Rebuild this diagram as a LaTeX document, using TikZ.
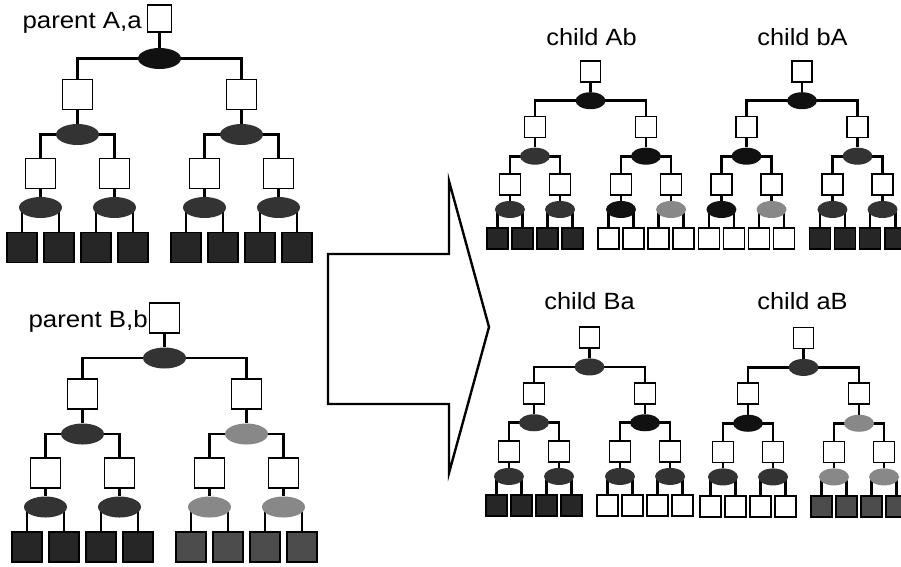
\documentclass[tikz,border=0pt]{standalone}
\usepackage{fontspec}
\setmainfont{Liberation Sans}
\usetikzlibrary{shapes.geometric,backgrounds}
\definecolor{cBlack}{HTML}{111111}
\definecolor{cDark}{HTML}{333333}
\definecolor{cLight}{HTML}{888888}
\definecolor{cLeafA}{HTML}{262626}
\definecolor{cLeafB}{HTML}{4C4C4C}
\tikzset{
  tbox/.style={draw=black, fill=white, line width=1.8pt, inner sep=0pt, minimum size=#1},
  tell/.style args={#1/#2/#3}{ellipse, fill=#1, inner sep=0pt, minimum width=#2, minimum height=#3},
  link/.style={draw=black, line width=2.8pt},
  lbl/.style={font=\fontsize{23.5}{27}\selectfont, inner sep=0pt},
  arrowshape/.style={draw=black, line width=2.4pt, line join=miter}
}
% #1 prefix, #2 x, #3 y, #4 sx, #5 sy, #6 box size, #7 ellipse width, #8 ellipse height
\newcommand\drawtree[8]{%
  \node[tbox=\rs, minimum width=\rw] (#1r) at (#2,#3) {};
  \node[tell={tR/#7/#8}] (#1e0) at ({#2},{#3+#5*40}) {};
  \node[tbox=#6] (#1b1) at ({#2-#4*82},{#3+#5*76}) {};
  \node[tbox=#6] (#1b2) at ({#2+#4*82},{#3+#5*76}) {};
  \node[tell={tLa/#7/#8}] (#1e1) at ({#2-#4*82},{#3+#5*116}) {};
  \node[tell={tLb/#7/#8}] (#1e2) at ({#2+#4*82},{#3+#5*116}) {};
  \node[tbox=#6] (#1m1) at ({#2-#4*119},{#3+#5*155}) {};
  \node[tbox=#6] (#1m2) at ({#2-#4*45},{#3+#5*155}) {};
  \node[tbox=#6] (#1m3) at ({#2+#4*45},{#3+#5*155}) {};
  \node[tbox=#6] (#1m4) at ({#2+#4*119},{#3+#5*155}) {};
  \node[tell={tMa/#7/#8}] (#1n1) at ({#2-#4*119},{#3+#5*189}) {};
  \node[tell={tMb/#7/#8}] (#1n2) at ({#2-#4*45},{#3+#5*189}) {};
  \node[tell={tMc/#7/#8}] (#1n3) at ({#2+#4*45},{#3+#5*189}) {};
  \node[tell={tMd/#7/#8}] (#1n4) at ({#2+#4*119},{#3+#5*189}) {};
  \node[tbox=#6, fill=tFa] (#1f1) at ({#2-#4*137.5},{#3+#5*229}) {};
  \node[tbox=#6, fill=tFa] (#1f2) at ({#2-#4*100.5},{#3+#5*229}) {};
  \node[tbox=#6, fill=tFa] (#1f3) at ({#2-#4*63.5},{#3+#5*229}) {};
  \node[tbox=#6, fill=tFa] (#1f4) at ({#2-#4*26.5},{#3+#5*229}) {};
  \node[tbox=#6, fill=tFb] (#1f5) at ({#2+#4*26.5},{#3+#5*229}) {};
  \node[tbox=#6, fill=tFb] (#1f6) at ({#2+#4*63.5},{#3+#5*229}) {};
  \node[tbox=#6, fill=tFb] (#1f7) at ({#2+#4*100.5},{#3+#5*229}) {};
  \node[tbox=#6, fill=tFb] (#1f8) at ({#2+#4*137.5},{#3+#5*229}) {};
  \begin{pgfonlayer}{background}
    \draw[link] (#1r) -- (#1e0);
    \draw[link] (#1e0.center) -| (#1b1.north);
    \draw[link] (#1e0.center) -| (#1b2.north);
    \draw[link] (#1b1) -- (#1e1);
    \draw[link] (#1b2) -- (#1e2);
    \draw[link] (#1e1.center) -| (#1m1.north);
    \draw[link] (#1e1.center) -| (#1m2.north);
    \draw[link] (#1e2.center) -| (#1m3.north);
    \draw[link] (#1e2.center) -| (#1m4.north);
    \draw[link] (#1m1) -- (#1n1);
    \draw[link] (#1m2) -- (#1n2);
    \draw[link] (#1m3) -- (#1n3);
    \draw[link] (#1m4) -- (#1n4);
    \draw[link] (#1n1.center) -| (#1f1.north);
    \draw[link] (#1n1.center) -| (#1f2.north);
    \draw[link] (#1n2.center) -| (#1f3.north);
    \draw[link] (#1n2.center) -| (#1f4.north);
    \draw[link] (#1n3.center) -| (#1f5.north);
    \draw[link] (#1n3.center) -| (#1f6.north);
    \draw[link] (#1n4.center) -| (#1f7.north);
    \draw[link] (#1n4.center) -| (#1f8.north);
  \end{pgfonlayer}
}
\newcommand\setcols[9]{%
  \colorlet{tR}{#1}\colorlet{tLa}{#2}\colorlet{tLb}{#3}%
  \colorlet{tMa}{#4}\colorlet{tMb}{#5}\colorlet{tMc}{#6}\colorlet{tMd}{#7}%
  \colorlet{tFa}{#8}\colorlet{tFb}{#9}}
\begin{document}
\begin{tikzpicture}[x=1pt,y=-1pt]
\useasboundingbox (0,0) rectangle (901,566);

% parent A,a
\setcols{cBlack}{cDark}{cDark}{cDark}{cDark}{cDark}{cDark}{cLeafA}{cLeafA}
\def\rs{27pt}\def\rw{24pt}
\drawtree{pa}{159.5}{18.5}{1}{1}{30pt}{43pt}{21pt}
\node[lbl, anchor=base east] (la) at (142,28) {\scalebox{1.1}[1]{parent A,a}};

% parent B,b
\setcols{cDark}{cDark}{cLight}{cDark}{cDark}{cLight}{cLight}{cLeafA}{cLeafB}
\def\rs{30pt}\def\rw{30pt}
\drawtree{pb}{164.5}{318}{1}{1}{30pt}{43pt}{21pt}
\node[lbl, anchor=base east] (lb) at (148,327) {\scalebox{1.1}[1]{parent B,b}};

% arrow
\draw[arrowshape] (328,254) -- (449,254) -- (449,181) -- (489,327) -- (449,473) -- (449,404) -- (328,404) -- cycle;

% children
\def\rs{21pt}\def\rw{20pt}
\setcols{cBlack}{cDark}{cBlack}{cDark}{cDark}{cBlack}{cLight}{cLeafA}{white}
\drawtree{cab}{590.5}{71.5}{0.677}{0.73}{21pt}{30pt}{17pt}
\node[lbl, anchor=base] (lab) at (591.5,45) {\scalebox{1.08}[1]{child Ab}};

\setcols{cBlack}{cBlack}{cDark}{cBlack}{cLight}{cDark}{cDark}{white}{cLeafA}
\drawtree{cba}{802}{71.5}{0.677}{0.73}{21pt}{30pt}{17pt}
\node[lbl, anchor=base] (lba) at (802.5,45) {\scalebox{1.08}[1]{child bA}};

\setcols{cDark}{cDark}{cBlack}{cDark}{cDark}{cDark}{cDark}{cLeafA}{white}
\drawtree{cBa}{589.5}{337.5}{0.677}{0.735}{21pt}{30pt}{17pt}
\node[lbl, anchor=base] (lBa) at (589.5,309) {\scalebox{1.08}[1]{child Ba}};

\setcols{cDark}{cBlack}{cLight}{cDark}{cDark}{cLight}{cLight}{white}{cLeafB}
\drawtree{caB}{803.5}{338}{0.677}{0.735}{21pt}{30pt}{17pt}
\node[lbl, anchor=base] (laB) at (802.5,309) {\scalebox{1.08}[1]{child aB}};
\end{tikzpicture}
\end{document}
